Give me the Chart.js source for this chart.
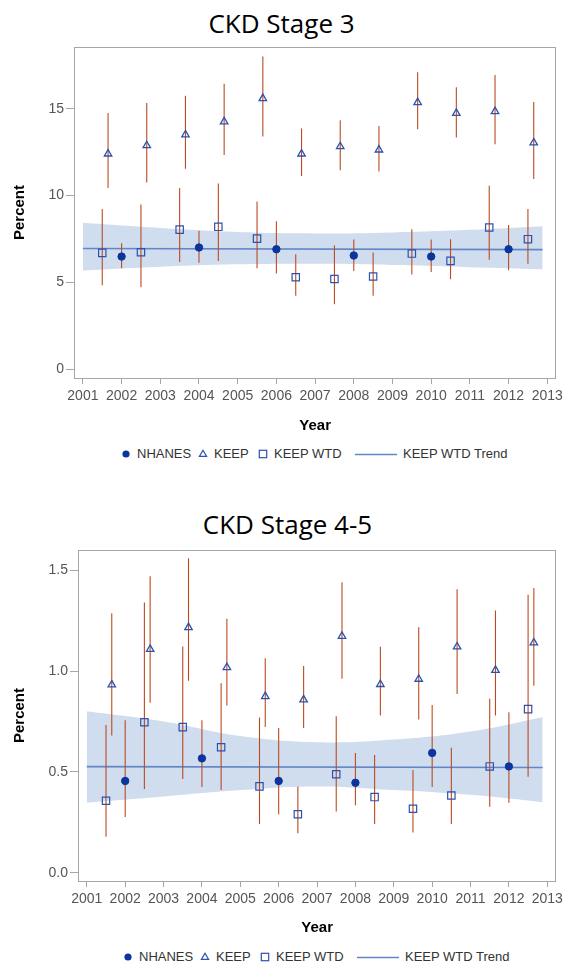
<!DOCTYPE html>
<html>
<head>
<meta charset="utf-8">
<script src="https://cdn.jsdelivr.net/npm/chart.js@4.4.0/dist/chart.umd.min.js"></script>
<style>
  body { margin: 0; background: #fff; width: 567px; height: 967px; position: relative; overflow: hidden;
         font-family: "Liberation Sans", Arial, sans-serif; }
  .title { position: absolute; width: 567px; text-align: center; font-family: "Open Sans", sans-serif;
           font-size: 26px; line-height: 30px; color: #000; }
  canvas { position: absolute; left: 0; }
  .legend { position: absolute; left: 0; width: 567px; height: 16px; font-size: 13px; color: #333; }
  .legend span { position: absolute; top: 0; line-height: 16px; white-space: nowrap; }
  .legend svg { position: absolute; top: 0; }
</style>
</head>
<body>
<div class="title" style="top:8px;left:-2px">CKD Stage 3</div>
<canvas id="stage3" width="567" height="440" style="top:0"></canvas>
<div class="legend" id="legend3" style="top:446px"></div>

<div class="title" style="top:509px;left:4px">CKD Stage 4-5</div>
<canvas id="stage45" width="567" height="453" style="top:490px"></canvas>
<div class="legend" id="legend45" style="top:949px"></div>

<script>
// ---- data ----
const seriesNames = ['NHANES', 'KEEP', 'KEEP WTD', 'KEEP WTD Trend'];
const yearTicks = [2001, 2002, 2003, 2004, 2005, 2006, 2007, 2008, 2009, 2010, 2011, 2012, 2013];

// x positions of the three series (KEEP and KEEP WTD are shifted inside each year)
const nhanesYears = [2002, 2004, 2006, 2008, 2010, 2012];
const keepYears = [2001.65, 2002.65, 2003.65, 2004.65, 2005.65, 2006.65, 2007.65, 2008.65, 2009.65, 2010.65, 2011.65, 2012.65];
const wtdYears = [2001.5, 2002.5, 2003.5, 2004.5, 2005.5, 2006.5, 2007.5, 2008.5, 2009.5, 2010.5, 2011.5, 2012.5];
const trendYears = [2001, 2012.88];
const bandYears = [2001, 2003, 2005, 2007, 2009, 2011, 2012.88];

// CKD stage 3
const s3Ticks = [0, 5, 10, 15];
const s3Nhanes   = [6.49, 7.01, 6.91, 6.55, 6.49, 6.91];
const s3NhanesLo = [5.82, 6.14, 5.51, 5.66, 5.60, 5.70];
const s3NhanesHi = [7.26, 7.98, 8.52, 7.47, 7.47, 8.31];
const s3Keep   = [12.40, 12.88, 13.50, 14.25, 15.59, 12.40, 12.82, 12.63, 15.36, 14.74, 14.84, 13.04];
const s3KeepLo = [10.43, 10.75, 11.54, 12.34, 13.40, 11.13, 11.46, 11.38, 13.82, 13.34, 12.96, 10.96];
const s3KeepHi = [14.75, 15.32, 15.74, 16.43, 18.00, 13.86, 14.34, 14.01, 17.09, 16.24, 16.94, 15.38];
const s3Wtd   = [6.70, 6.74, 8.04, 8.20, 7.52, 5.30, 5.20, 5.34, 6.66, 6.24, 8.16, 7.49];
const s3WtdLo = [4.84, 4.72, 6.18, 6.24, 5.82, 4.24, 3.74, 4.24, 5.45, 5.18, 6.30, 6.08];
const s3WtdHi = [9.23, 9.48, 10.43, 10.69, 9.66, 6.62, 7.12, 6.72, 8.06, 7.49, 10.56, 9.23];
const s3Trend = [6.95, 6.89];
const s3BandHi = [8.43, 8.13, 7.90, 7.82, 7.88, 8.03, 8.24];
const s3BandLo = [5.68, 5.90, 6.04, 6.07, 6.00, 5.88, 5.76];

// CKD stage 4-5
const s45Ticks = [0, 0.5, 1.0, 1.5];
const s45Nhanes   = [0.455, 0.567, 0.455, 0.446, 0.594, 0.527];
const s45NhanesLo = [0.276, 0.425, 0.290, 0.335, 0.425, 0.347];
const s45NhanesHi = [0.756, 0.756, 0.718, 0.594, 0.831, 0.796];
const s45Keep   = [0.932, 1.108, 1.216, 1.018, 0.874, 0.858, 1.173, 0.934, 0.960, 1.120, 1.004, 1.140];
const s45KeepLo = [0.680, 0.843, 0.952, 0.829, 0.723, 0.718, 0.962, 0.780, 0.760, 0.886, 0.780, 0.927];
const s45KeepHi = [1.286, 1.470, 1.559, 1.259, 1.063, 1.025, 1.440, 1.120, 1.217, 1.406, 1.300, 1.411];
const s45Wtd   = [0.357, 0.746, 0.722, 0.622, 0.428, 0.290, 0.488, 0.375, 0.317, 0.383, 0.527, 0.811];
const s45WtdLo = [0.178, 0.415, 0.465, 0.410, 0.242, 0.196, 0.304, 0.241, 0.199, 0.242, 0.327, 0.476];
const s45WtdHi = [0.732, 1.340, 1.121, 0.940, 0.770, 0.428, 0.776, 0.584, 0.509, 0.620, 0.863, 1.378];
const s45Trend = [0.526, 0.522];
const s45BandHi = [0.800, 0.750, 0.678, 0.647, 0.660, 0.700, 0.771];
const s45BandLo = [0.347, 0.378, 0.410, 0.428, 0.410, 0.386, 0.350];

// ---- colours ----
const NAVY = '#0b349d';
const MARK_BLUE = '#2d52ae';
const TREND_BLUE = '#6386c8';
const BAND = '#cfddef';
const ERR = '#bc4a20';
const FRAME = '#a6a6a6';
const TICK_TEXT = '#555555';

const points = (xs, ys) => xs.map((x, i) => ({ x, y: ys[i] }));
const bars = (xs, lo, hi) => xs.map((x, i) => ({ x, y: [lo[i], hi[i]] }));

// draws the box round the plot area
const framePlugin = {
  id: 'frame',
  beforeDatasetsDraw(chart) {
    const { ctx, chartArea: a } = chart;
    ctx.save();
    ctx.strokeStyle = FRAME;
    ctx.lineWidth = 1;
    ctx.strokeRect(Math.round(a.left) + 0.5, Math.round(a.top) + 0.5,
                   Math.round(a.right - a.left) - 1, Math.round(a.bottom - a.top));
    ctx.restore();
  }
};

function makeChart(id, s) {
  const ctx = document.getElementById(id).getContext('2d');
  return new Chart(ctx, {
    type: 'scatter',
    data: {
      datasets: [
        { type: 'line', data: points(bandYears, s.bandLo), borderColor: 'rgba(0,0,0,0)', borderWidth: 0,
          pointRadius: 0, fill: false, tension: 0.4, order: 40 },
        { type: 'line', data: points(bandYears, s.bandHi), borderColor: 'rgba(0,0,0,0)', borderWidth: 0,
          pointRadius: 0, fill: '-1', backgroundColor: BAND, tension: 0.4, order: 40 },
        { type: 'line', label: seriesNames[3], data: points(trendYears, s.trend), borderColor: TREND_BLUE,
          borderWidth: 1.6, pointRadius: 0, fill: false, order: 30 },
        { type: 'bar', data: [...bars(nhanesYears, s.nhanesLo, s.nhanesHi),
                              ...bars(keepYears, s.keepLo, s.keepHi),
                              ...bars(wtdYears, s.wtdLo, s.wtdHi)],
          backgroundColor: ERR, barThickness: 1.1, inflateAmount: 0, borderWidth: 0, order: 20 },
        { label: seriesNames[0], data: points(nhanesYears, s.nhanes), pointStyle: 'circle',
          pointRadius: 3.7, backgroundColor: NAVY, borderColor: NAVY, borderWidth: 1, order: 1 },
        { label: seriesNames[1], data: points(keepYears, s.keep), pointStyle: 'triangle',
          pointRadius: 4.3, backgroundColor: 'rgba(0,0,0,0)', borderColor: MARK_BLUE, borderWidth: 1.3, order: 1 },
        { label: seriesNames[2], data: points(wtdYears, s.wtd), pointStyle: 'rect',
          pointRadius: 5.2, backgroundColor: 'rgba(0,0,0,0)', borderColor: MARK_BLUE, borderWidth: 1.2, order: 1 }
      ]
    },
    options: {
      responsive: false,
      animation: false,
      events: [],
      layout: { padding: { top: s.padTop, right: s.padRight, left: 0, bottom: 0 } },
      plugins: { legend: { display: false }, tooltip: { enabled: false } },
      scales: {
        x: {
          type: 'linear', min: 2000.77, max: 2013.235, offset: false,
          afterBuildTicks: (scale) => { scale.ticks = yearTicks.map(v => ({ value: v })); },
          afterFit: (scale) => { scale.height = 62; },
          ticks: { color: TICK_TEXT, font: { size: 14, family: 'Liberation Sans' }, padding: 4,
                   maxRotation: 0, autoSkip: false, callback: v => String(v) },
          grid: { display: true, drawOnChartArea: false, drawTicks: true, tickLength: 6, color: FRAME, offset: false },
          border: { display: false },
          title: { display: true, text: 'Year', color: '#000',
                   font: { size: 15, weight: 'bold', family: 'Liberation Sans' }, padding: { top: 0, bottom: s.xTitlePad } }
        },
        y: {
          type: 'linear', min: s.yMin, max: s.yMax,
          afterBuildTicks: (scale) => { scale.ticks = s.ticks.map(v => ({ value: v })); },
          afterFit: (scale) => { scale.width = s.yWidth; },
          ticks: { color: TICK_TEXT, font: { size: 14, family: 'Liberation Sans' }, padding: 2,
                   callback: v => v.toFixed(s.decimals) },
          grid: { display: true, drawOnChartArea: false, drawTicks: true, tickLength: 8, color: FRAME },
          border: { display: false },
          title: { display: true, text: 'Percent', color: '#000',
                   font: { size: 15, weight: 'bold', family: 'Liberation Sans' }, padding: { top: 11, bottom: 0 } }
        }
      }
    },
    plugins: [framePlugin]
  });
}

function buildLegend(id, shift) {
  const el = document.getElementById(id);
  const marks = [
    `<svg width="16" height="16" style="left:${118 + shift}px"><circle cx="8" cy="8" r="3.6" fill="${NAVY}"/></svg>`,
    `<svg width="16" height="16" style="left:${195 + shift}px"><path d="M8 4.3 L11.6 10.4 L4.4 10.4 Z" fill="none" stroke="${MARK_BLUE}" stroke-width="1.2"/></svg>`,
    `<svg width="16" height="16" style="left:${255 + shift}px"><rect x="4.3" y="4.3" width="7.4" height="7.4" fill="none" stroke="${MARK_BLUE}" stroke-width="1.2"/></svg>`,
    `<svg width="44" height="16" style="left:${354 + shift}px"><line x1="1" y1="8.5" x2="43" y2="8.5" stroke="${TREND_BLUE}" stroke-width="1.3"/></svg>`
  ];
  const textX = [137, 214, 274, 403];
  el.innerHTML = marks.join('') +
    seriesNames.map((name, i) => `<span style="left:${textX[i] + shift}px">${name}</span>`).join('');
}

makeChart('stage3', {
  nhanes: s3Nhanes, nhanesLo: s3NhanesLo, nhanesHi: s3NhanesHi,
  keep: s3Keep, keepLo: s3KeepLo, keepHi: s3KeepHi,
  wtd: s3Wtd, wtdLo: s3WtdLo, wtdHi: s3WtdHi,
  trend: s3Trend, bandHi: s3BandHi, bandLo: s3BandLo,
  ticks: s3Ticks, decimals: 0, yMin: -0.5, yMax: 18.55,
  yWidth: 74, padTop: 47, padRight: 8, xTitlePad: 5
});

makeChart('stage45', {
  nhanes: s45Nhanes, nhanesLo: s45NhanesLo, nhanesHi: s45NhanesHi,
  keep: s45Keep, keepLo: s45KeepLo, keepHi: s45KeepHi,
  wtd: s45Wtd, wtdLo: s45WtdLo, wtdHi: s45WtdHi,
  trend: s45Trend, bandHi: s45BandHi, bandLo: s45BandLo,
  ticks: s45Ticks, decimals: 1, yMin: -0.041, yMax: 1.6,
  yWidth: 78, padTop: 60, padRight: 8, xTitlePad: 6
});

buildLegend('legend3', 0);
buildLegend('legend45', 2);
</script>
</body>
</html>
